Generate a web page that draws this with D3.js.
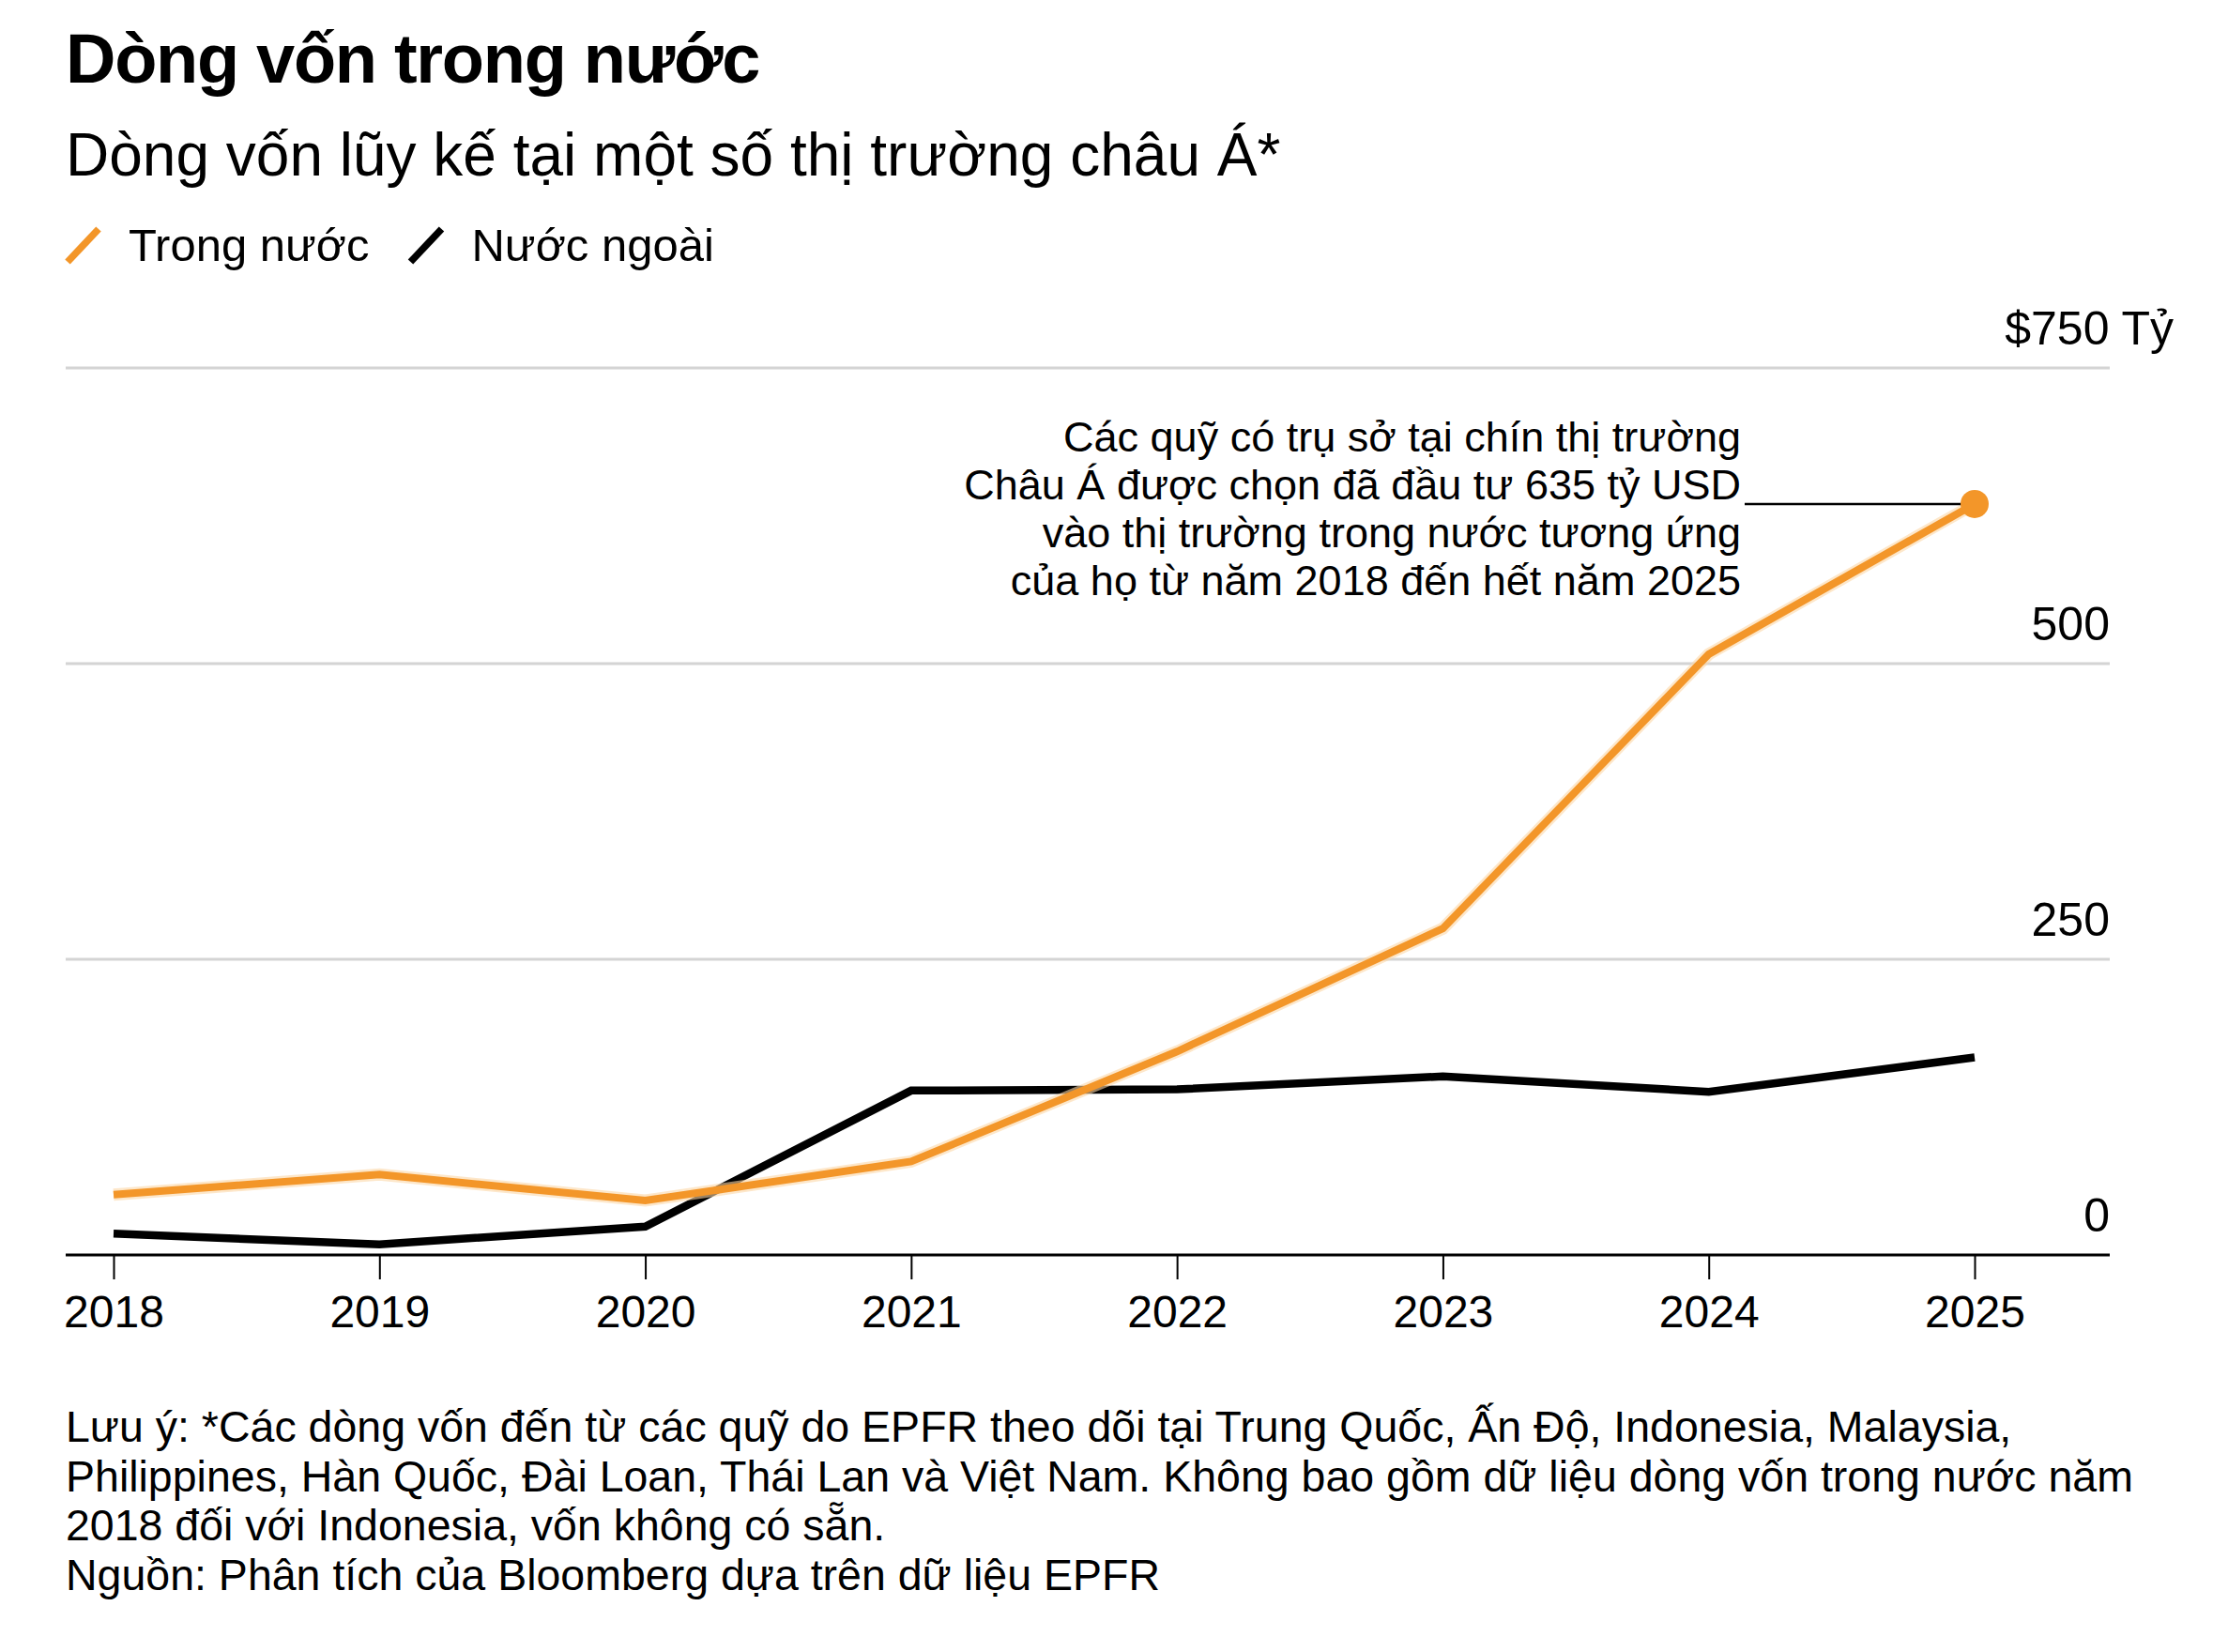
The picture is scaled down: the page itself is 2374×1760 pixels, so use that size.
<!DOCTYPE html>
<html>
<head>
<meta charset="utf-8">
<script src="https://cdn.jsdelivr.net/npm/d3@7"></script>
<style>
  html, body { margin: 0; padding: 0; background: #fff; }
  svg { display: block; font-family: "Liberation Sans", Arial, sans-serif; }
</style>
</head>
<body>
<svg id="chart" width="2374" height="1760"></svg>
<script>
// data (billion USD, cumulative)
var years = [2018, 2019, 2020, 2021, 2022, 2023, 2024, 2025];
var domestic = [51, 68, 46, 79, 172, 276, 508, 635];
var foreign = [18, 9, 24, 139, 140, 151, 138, 167];
var yTicks = [0, 250, 500, 750];
var yTickLabels = ["0", "250", "500", "$750 Tỷ"];
var seriesNames = ["Trong nước", "Nước ngoài"];
var seriesColors = ["#f39629", "#000000"];

var titleText = "Dòng vốn trong nước";
var subtitleText = "Dòng vốn lũy kế tại một số thị trường châu Á*";
var noteLines = [
  "Các quỹ có trụ sở tại chín thị trường",
  "Châu Á được chọn đã đầu tư 635 tỷ USD",
  "vào thị trường trong nước tương ứng",
  "của họ từ năm 2018 đến hết năm 2025"
];
var footLines = [
  "Lưu ý: *Các dòng vốn đến từ các quỹ do EPFR theo dõi tại Trung Quốc, Ấn Độ, Indonesia, Malaysia,",
  "Philippines, Hàn Quốc, Đài Loan, Thái Lan và Việt Nam. Không bao gồm dữ liệu dòng vốn trong nước năm",
  "2018 đối với Indonesia, vốn không có sẵn.",
  "Nguồn: Phân tích của Bloomberg dựa trên dữ liệu EPFR"
];

var svg = d3.select("#chart");
var left = 70, right = 2248;

var x = d3.scalePoint().domain(years).range([121, 2104]);
var y = d3.scaleLinear().domain([0, 750]).range([1337, 392]);

// title block
svg.append("text").attr("x", left).attr("y", 88)
  .style("font-size", "74px").style("font-weight", "bold")
  .style("letter-spacing", "-1.3px")
  .text(titleText);
svg.append("text").attr("x", left).attr("y", 187)
  .style("font-size", "64px")
  .text(subtitleText);

// legend
var lx = left;
seriesNames.forEach(function (name, i) {
  svg.append("line")
    .attr("x1", lx + 2).attr("y1", 279).attr("x2", lx + 35).attr("y2", 244)
    .attr("stroke", seriesColors[i]).attr("stroke-width", 7.5);
  var t = svg.append("text").attr("x", lx + 67).attr("y", 278)
    .style("font-size", "49px").text(name);
  lx = lx + 67 + t.node().getComputedTextLength() + 42;
});

// gridlines
svg.append("g").selectAll("line")
  .data(yTicks.filter(function (d) { return d > 0; }))
  .enter().append("line")
  .attr("x1", left).attr("x2", right)
  .attr("y1", function (d) { return y(d); })
  .attr("y2", function (d) { return y(d); })
  .attr("stroke", "#d4d4d4").attr("stroke-width", 3);

// y labels
svg.append("g").selectAll("text")
  .data(yTicks)
  .enter().append("text")
  .attr("x", function (d) { return d === 750 ? 2316 : right; })
  .attr("y", function (d) { return y(d) - 25; })
  .attr("text-anchor", "end")
  .style("font-size", "50px")
  .text(function (d, i) { return yTickLabels[i]; });

// x axis
var xAxis = d3.axisBottom(x).tickSize(26).tickPadding(17).tickSizeOuter(0);
var gx = svg.append("g").attr("transform", "translate(0," + y(0) + ")").call(xAxis);
gx.select(".domain").remove();
gx.selectAll(".tick line").attr("stroke", "#000").attr("stroke-width", 2);
gx.selectAll(".tick text").attr("fill", "#000")
  .style("font-size", "48px").style("font-family", "Liberation Sans, Arial, sans-serif");
svg.append("line").attr("x1", left).attr("x2", right)
  .attr("y1", y(0)).attr("y2", y(0))
  .attr("stroke", "#000").attr("stroke-width", 3);

var line = d3.line()
  .x(function (d, i) { return x(years[i]); })
  .y(function (d) { return y(d); });

// foreign (black)
svg.append("path").datum(foreign)
  .attr("d", line).attr("fill", "none")
  .attr("stroke", seriesColors[1]).attr("stroke-width", 8.5);

// domestic (orange) with soft halo
svg.append("path").datum(domestic)
  .attr("d", line).attr("fill", "none")
  .attr("stroke", "#fbd7a6").attr("stroke-width", 13).attr("opacity", 0.6);
svg.append("path").datum(domestic)
  .attr("d", line).attr("fill", "none")
  .attr("stroke", seriesColors[0]).attr("stroke-width", 8);

// annotation
var last = domestic.length - 1;
var note = svg.append("g");
note.selectAll("text").data(noteLines).enter().append("text")
  .attr("x", 1855)
  .attr("y", function (d, i) { return 481 + i * 51; })
  .attr("text-anchor", "end")
  .style("font-size", "45px")
  .text(function (d) { return d; });
note.append("line")
  .attr("x1", 1859).attr("x2", x(years[last]))
  .attr("y1", y(domestic[last])).attr("y2", y(domestic[last]))
  .attr("stroke", "#000").attr("stroke-width", 2.5);
svg.append("circle")
  .attr("cx", x(years[last])).attr("cy", y(domestic[last]))
  .attr("r", 15).attr("fill", seriesColors[0]);

// footnote
svg.append("g").selectAll("text").data(footLines).enter().append("text")
  .attr("x", left)
  .attr("y", function (d, i) { return 1536 + i * 52.5; })
  .style("font-size", "46.5px")
  .text(function (d) { return d; });
</script>
</body>
</html>
